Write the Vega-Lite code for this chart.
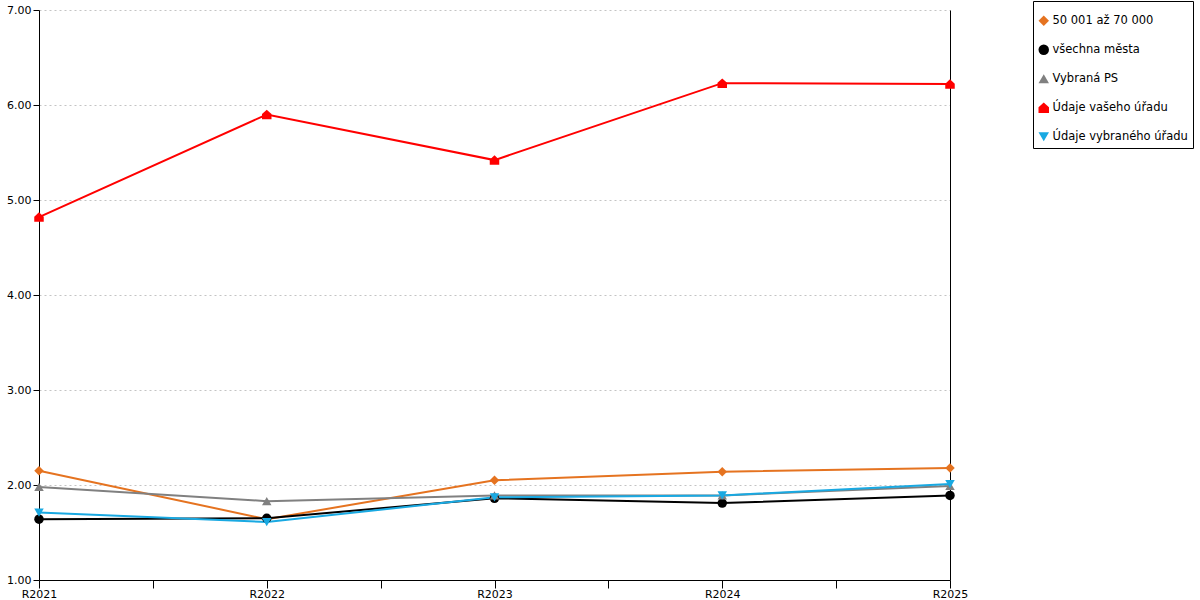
{
  "$schema": "https://vega.github.io/schema/vega-lite/v6.json",
  "width": 911,
  "height": 570,
  "autosize": {"type": "none"},
  "padding": {"left": 39, "top": 10, "right": 250, "bottom": 20},
  "background": "white",
  "config": {
    "font": "DejaVu Sans",
    "view": {"stroke": null},
    "axis": {"labelFont": "DejaVu Sans", "labelFontSize": 11, "labelColor": "#000", "domainColor": "#000", "tickColor": "#000", "titleFontSize": 11},
    "legend": {
      "strokeColor": "#000", "padding": 5, "rowPadding": 16,
      "labelFont": "DejaVu Sans", "labelFontSize": 11.5, "labelColor": "#000",
      "symbolSize": 110, "symbolStrokeWidth": 0, "symbolOpacity": 1, "labelOffset": 3,
      "titleFontSize": 6, "titlePadding": 3
    }
  },
  "data": {
    "values": [
      {"rok": 2021, "serie": "50 001 až 70 000", "hodnota": 2.15},
      {"rok": 2022, "serie": "50 001 až 70 000", "hodnota": 1.64},
      {"rok": 2023, "serie": "50 001 až 70 000", "hodnota": 2.05},
      {"rok": 2024, "serie": "50 001 až 70 000", "hodnota": 2.14},
      {"rok": 2025, "serie": "50 001 až 70 000", "hodnota": 2.18},
      {"rok": 2021, "serie": "všechna města", "hodnota": 1.64},
      {"rok": 2022, "serie": "všechna města", "hodnota": 1.65},
      {"rok": 2023, "serie": "všechna města", "hodnota": 1.86},
      {"rok": 2024, "serie": "všechna města", "hodnota": 1.81},
      {"rok": 2025, "serie": "všechna města", "hodnota": 1.89},
      {"rok": 2021, "serie": "Vybraná PS", "hodnota": 1.98},
      {"rok": 2022, "serie": "Vybraná PS", "hodnota": 1.83},
      {"rok": 2023, "serie": "Vybraná PS", "hodnota": 1.89},
      {"rok": 2024, "serie": "Vybraná PS", "hodnota": 1.89},
      {"rok": 2025, "serie": "Vybraná PS", "hodnota": 1.99},
      {"rok": 2021, "serie": "Údaje vašeho úřadu", "hodnota": 4.82},
      {"rok": 2022, "serie": "Údaje vašeho úřadu", "hodnota": 5.90},
      {"rok": 2023, "serie": "Údaje vašeho úřadu", "hodnota": 5.42},
      {"rok": 2024, "serie": "Údaje vašeho úřadu", "hodnota": 6.23},
      {"rok": 2025, "serie": "Údaje vašeho úřadu", "hodnota": 6.22},
      {"rok": 2021, "serie": "Údaje vybraného úřadu", "hodnota": 1.71},
      {"rok": 2022, "serie": "Údaje vybraného úřadu", "hodnota": 1.61},
      {"rok": 2023, "serie": "Údaje vybraného úřadu", "hodnota": 1.87},
      {"rok": 2024, "serie": "Údaje vybraného úřadu", "hodnota": 1.89},
      {"rok": 2025, "serie": "Údaje vybraného úřadu", "hodnota": 2.01}
    ]
  },
  "resolve": {"axis": {"y": "independent"}},
  "layer": [
    {
      "mark": {"type": "line", "strokeWidth": 2},
      "encoding": {
        "x": {
          "field": "rok", "type": "quantitative",
          "scale": {"domain": [2021, 2025], "nice": false, "zero": false},
          "axis": {
            "title": null,
            "values": [2021, 2021.5, 2022, 2022.5, 2023, 2023.5, 2024, 2024.5, 2025],
            "labelExpr": "datum.value % 1 == 0 ? 'R' + datum.value : ''",
            "grid": false, "tickSize": 8, "labelPadding": 0, "labelFlush": false, "labelOverlap": false
          }
        },
        "y": {
          "field": "hodnota", "type": "quantitative",
          "scale": {"domain": [1, 7], "nice": false, "zero": false},
          "axis": {
            "title": null, "values": [1, 2, 3, 4, 5, 6, 7], "format": ".2f",
            "grid": true, "gridColor": "#c4c4c4", "gridDash": [2, 3], "tickSize": 6, "labelPadding": 2
          }
        },
        "color": {
          "field": "serie", "type": "nominal",
          "scale": {
            "domain": ["50 001 až 70 000", "všechna města", "Vybraná PS", "Údaje vašeho úřadu", "Údaje vybraného úřadu"],
            "range": ["#E57320", "#000000", "#808080", "#FF0000", "#19A9E2"]
          },
          "legend": {"title": " ", "orient": "none", "legendX": 994, "legendY": -9}
        },
        "order": {"field": "rok"}
      }
    },
    {
      "mark": {"type": "point", "filled": true, "opacity": 1, "size": 90},
      "encoding": {
        "x": {"field": "rok", "type": "quantitative"},
        "y": {
          "field": "hodnota", "type": "quantitative",
          "axis": {"orient": "right", "title": null, "labels": false, "ticks": false, "grid": false}
        },
        "color": {
          "field": "serie", "type": "nominal",
          "legend": {"title": " ", "orient": "none", "legendX": 994, "legendY": -9}
        },
        "shape": {
          "field": "serie", "type": "nominal",
          "scale": {
            "domain": ["50 001 až 70 000", "všechna města", "Vybraná PS", "Údaje vašeho úřadu", "Údaje vybraného úřadu"],
            "range": ["diamond", "circle", "triangle-up", "M -1 1 L 1 1 L 1 -0.1 L 0 -1 L -1 -0.1 Z", "triangle-down"]
          },
          "legend": {"title": " ", "orient": "none", "legendX": 994, "legendY": -9}
        }
      }
    }
  ]
}
